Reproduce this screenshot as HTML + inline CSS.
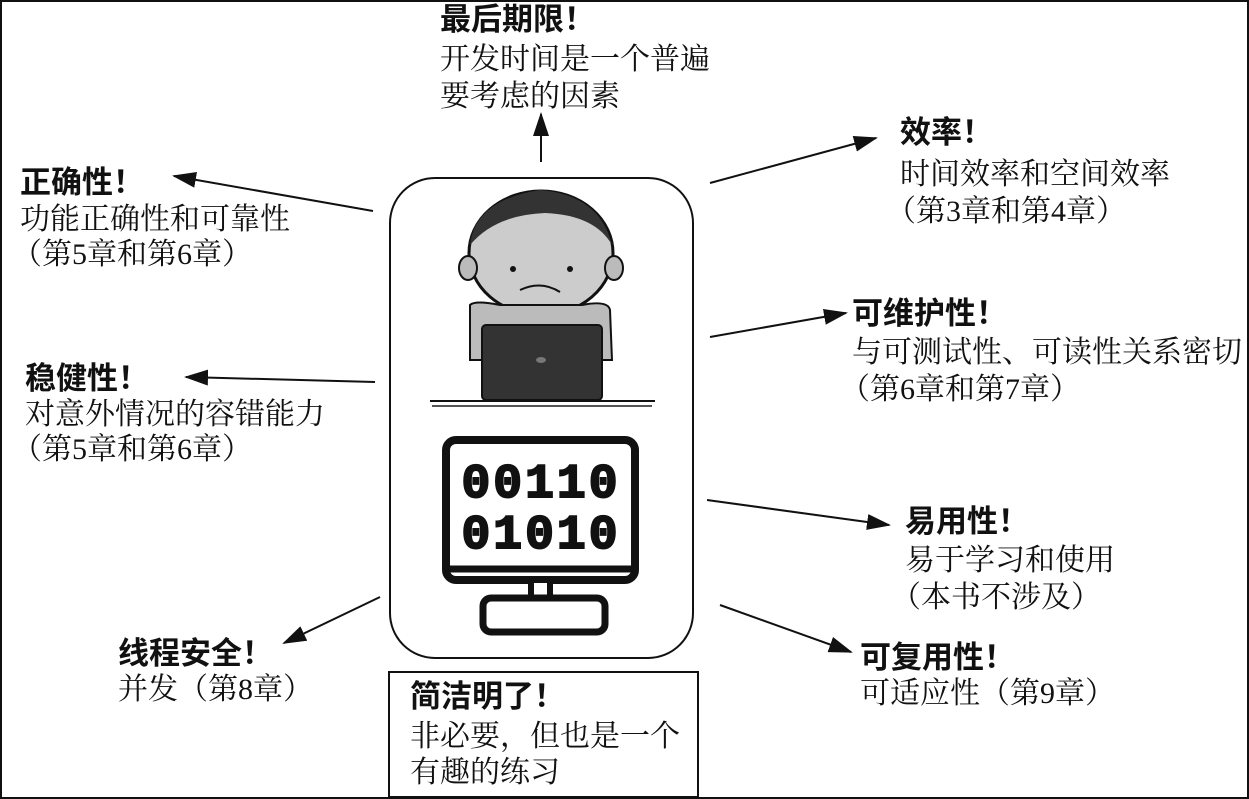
<!DOCTYPE html>
<html><head><meta charset="utf-8"><style>
html,body{margin:0;padding:0;background:#fff}
svg{display:block}
text{font-family:"Liberation Serif","Noto Serif CJK SC","Noto Sans CJK SC",serif;fill:#111}
.t{font-family:"Liberation Sans","Noto Sans CJK SC",sans-serif;font-weight:bold;font-size:31px}
.b{font-size:30px}
</style></head><body>
<svg width="1249" height="799" viewBox="0 0 1249 799" xmlns="http://www.w3.org/2000/svg">
<defs><marker id="a" markerWidth="24" markerHeight="16" refX="22" refY="8" orient="auto" markerUnits="userSpaceOnUse"><path d="M0,0 L24,8 L0,16 z" fill="#111"/></marker></defs>
<rect x="1" y="1" width="1247" height="797" fill="none" stroke="#111" stroke-width="2"/>
<rect x="390" y="178" width="303" height="480" rx="45" fill="#fff" stroke="#111" stroke-width="2"/>
<g>
<ellipse cx="541" cy="253" rx="72" ry="62" fill="#ccc" stroke="#111" stroke-width="3"/>
<path d="M470,245 Q475,200 540,190 Q600,195 612,245 Q595,215 545,213 Q495,215 470,245z" fill="#333"/>
<ellipse cx="468" cy="268" rx="9" ry="12" fill="#bbb" stroke="#111" stroke-width="2"/>
<ellipse cx="614" cy="268" rx="9" ry="12" fill="#bbb" stroke="#111" stroke-width="2"/>
<path d="M470,305 Q475,300 500,305 L582,305 Q608,300 610,310 L612,360 L470,360z" fill="#bbb" stroke="#111" stroke-width="2"/>
<circle cx="513" cy="269" r="3" fill="#111"/><circle cx="570" cy="269" r="3" fill="#111"/>
<path d="M520,290 Q541,280 560,292" fill="none" stroke="#111" stroke-width="2"/>
<rect x="482" y="325" width="120" height="75" rx="4" fill="#333" stroke="#111" stroke-width="2"/>
<ellipse cx="541" cy="360" rx="5" ry="3" fill="#777"/>
<line x1="430" y1="401" x2="655" y2="401" stroke="#111" stroke-width="2"/>
<line x1="432" y1="406" x2="652" y2="406" stroke="#555" stroke-width="2"/>
</g>
<rect x="446" y="440" width="189" height="140" rx="10" fill="none" stroke="#111" stroke-width="8"/>
<line x1="446" y1="569" x2="635" y2="569" stroke="#111" stroke-width="7"/>
<rect x="531" y="580" width="19" height="18" fill="#fff" stroke="#111" stroke-width="6"/>
<rect x="483" y="598" width="122" height="34" rx="8" fill="none" stroke="#111" stroke-width="7"/>
<text x="541" y="497" text-anchor="middle" stroke="#111" stroke-width="2" style="font-family:'Liberation Mono',monospace;font-weight:bold;font-size:48px;letter-spacing:3px">00110</text>
<text x="541" y="548" text-anchor="middle" stroke="#111" stroke-width="2" style="font-family:'Liberation Mono',monospace;font-weight:bold;font-size:48px;letter-spacing:3px">01010</text>
<g stroke="#111" stroke-width="2" marker-end="url(#a)">
<line x1="541" y1="162" x2="541" y2="114"/>
<line x1="373" y1="211" x2="174" y2="176"/>
<line x1="375" y1="382" x2="186" y2="377"/>
<line x1="380" y1="597" x2="284" y2="643"/>
<line x1="710" y1="183" x2="876" y2="138"/>
<line x1="710" y1="337" x2="846" y2="313"/>
<line x1="707" y1="500" x2="889" y2="525"/>
<line x1="720" y1="605" x2="851" y2="652"/>
</g>
<text class="t" x="440" y="30">最后期限！</text>
<text class="b" x="440" y="69">开发时间是一个普遍</text>
<text class="b" x="440" y="106">要考虑的因素</text>
<text class="t" x="20" y="193">正确性！</text>
<text class="b" x="20" y="229">功能正确性和可靠性</text>
<text class="b" x="12" y="264">（第5章和第6章）</text>
<text class="t" x="25" y="389">稳健性！</text>
<text class="b" x="25" y="424">对意外情况的容错能力</text>
<text class="b" x="12" y="459">（第5章和第6章）</text>
<text class="t" x="118" y="664">线程安全！</text>
<text class="b" x="118" y="699">并发（第8章）</text>
<text class="t" x="900" y="143">效率！</text>
<text class="b" x="900" y="184">时间效率和空间效率</text>
<text class="b" x="886" y="221">（第3章和第4章）</text>
<text class="t" x="852" y="324">可维护性！</text>
<text class="b" x="852" y="362">与可测试性、可读性关系密切</text>
<text class="b" x="840" y="399">（第6章和第7章）</text>
<text class="t" x="905" y="532">易用性！</text>
<text class="b" x="905" y="570">易于学习和使用</text>
<text class="b" x="891" y="607">（本书不涉及）</text>
<text class="t" x="860" y="668">可复用性！</text>
<text class="b" x="860" y="703">可适应性（第9章）</text>
<rect x="389" y="672" width="309" height="125" fill="#fff" stroke="#111" stroke-width="2"/>
<text class="t" x="410" y="707">简洁明了！</text>
<text class="b" x="410" y="746">非必要，但也是一个</text>
<text class="b" x="410" y="782">有趣的练习</text>
</svg>
</body></html>
